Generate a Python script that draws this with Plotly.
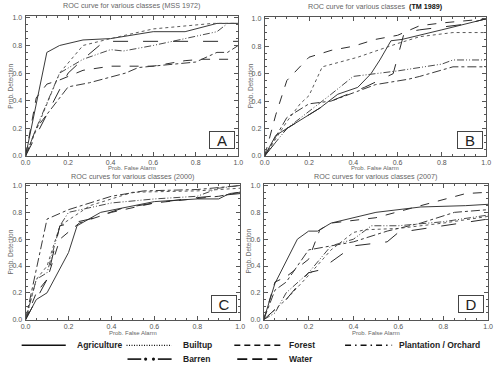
import plotly.graph_objects as go

# ---------------- data ----------------
CLASSES = ["Agriculture", "Builtup", "Forest", "Plantation / Orchard", "Barren", "Water"]
PANEL_LETTERS = ["A", "B", "C", "D"]
PANEL_TITLES = [
    "ROC curve for various classes (MSS 1972)",
    "ROC curve for various classes  <span style='color:#111'><b>(TM 1989)</b></span>",
    "ROC curves for various classes (2000)",
    "ROC curves for various classes (2007)",
]
TICK_VALUES = [0.0, 0.2, 0.4, 0.6, 0.8, 1.0]
TICK_LABELS = ["0.0", "0.2", "0.4", "0.6", "0.8", "1.0"]

# Panel A (MSS 1972)
A_agriculture = ([0, 0.1, 0.16, 0.27, 0.4, 0.6, 0.75, 0.9, 1.0],
                 [0, 0.75, 0.8, 0.84, 0.85, 0.9, 0.9, 0.96, 0.96])
A_builtup = ([0, 0.16, 0.27, 0.4, 0.6, 0.88, 1.0],
             [0, 0.6, 0.8, 0.85, 0.92, 0.96, 0.96])
A_forest = ([0, 0.05, 0.1, 0.16, 0.27, 0.4, 0.6, 0.75, 0.83, 1.0],
            [0, 0.42, 0.52, 0.55, 0.62, 0.65, 0.65, 0.69, 0.7, 0.7])
A_plantation = ([0, 0.05, 0.1, 0.2, 0.3, 0.47, 0.53, 0.8, 0.9, 0.95, 1.0],
                [0, 0.2, 0.3, 0.5, 0.53, 0.6, 0.64, 0.68, 0.75, 0.75, 0.8])
A_barren = ([0, 0.05, 0.16, 0.27, 0.4, 0.46, 0.6, 0.9, 0.95, 1.0],
            [0, 0.2, 0.6, 0.7, 0.77, 0.76, 0.8, 0.9, 0.96, 0.96])
A_water = ([0, 0.1, 0.2, 0.27, 0.37, 1.0],
           [0, 0.3, 0.6, 0.7, 0.83, 0.83])

# Panel B (TM 1989)
B_agriculture = ([0, 0.05, 0.1, 0.25, 0.33, 0.42, 0.48, 0.52, 0.57, 0.62, 0.8, 0.9, 1.0],
                 [0, 0.15, 0.2, 0.35, 0.45, 0.5, 0.6, 0.7, 0.84, 0.85, 0.92, 0.96, 1.0])
B_builtup = ([0, 0.1, 0.16, 0.2, 0.26, 0.42, 0.6, 0.7, 0.85, 1.0],
             [0, 0.25, 0.38, 0.44, 0.65, 0.72, 0.82, 0.87, 0.9, 0.9])
B_forest = ([0, 0.05, 0.1, 0.2, 0.3, 0.4, 0.5, 0.6, 0.7, 0.8, 1.0],
            [0, 0.3, 0.55, 0.72, 0.77, 0.8, 0.85, 0.88, 0.95, 0.97, 1.0])
B_plantation = ([0, 0.1, 0.2, 0.3, 0.4, 0.5, 0.65, 0.7, 0.85, 1.0],
                [0, 0.28, 0.38, 0.4, 0.46, 0.52, 0.56, 0.58, 0.65, 0.65])
B_barren = ([0, 0.1, 0.3, 0.4, 0.5, 0.6, 0.8, 0.85, 1.0],
            [0, 0.2, 0.45, 0.58, 0.6, 0.62, 0.67, 0.7, 0.7])
B_water = ([0, 0.1, 0.3, 0.45, 0.58, 0.63, 0.7, 0.9, 1.0],
           [0, 0.2, 0.4, 0.5, 0.6, 0.9, 0.92, 0.96, 1.0])

# Panel C (2000)
C_agriculture = ([0, 0.05, 0.1, 0.2, 0.24, 0.35, 0.6, 0.8, 0.9, 0.95, 1.0],
                 [0, 0.15, 0.2, 0.5, 0.7, 0.8, 0.88, 0.9, 0.9, 0.94, 0.95])
C_builtup = ([0, 0.05, 0.1, 0.16, 0.3, 0.5, 0.8, 1.0],
             [0, 0.3, 0.4, 0.7, 0.85, 0.95, 0.96, 0.98])
C_forest = ([0, 0.05, 0.1, 0.16, 0.25, 0.4, 0.6, 0.8, 0.9, 1.0],
            [0, 0.2, 0.3, 0.6, 0.72, 0.8, 0.87, 0.9, 0.92, 0.95])
C_plantation = ([0, 0.1, 0.2, 0.4, 0.55, 0.8, 1.0],
                [0, 0.75, 0.82, 0.92, 0.96, 0.97, 1.0])
C_barren = ([0, 0.05, 0.1, 0.16, 0.2, 0.4, 0.6, 0.8, 0.9, 1.0],
            [0, 0.3, 0.35, 0.7, 0.8, 0.87, 0.9, 0.92, 0.98, 1.0])
C_water = ([0, 0.05, 0.1, 0.16, 0.3, 0.45, 0.6, 0.8, 1.0],
           [0, 0.15, 0.3, 0.7, 0.75, 0.83, 0.87, 0.91, 0.94])

# Panel D (2007)
D_agriculture = ([0, 0.05, 0.15, 0.2, 0.24, 0.3, 0.5, 0.7, 0.9, 1.0],
                 [0, 0.27, 0.6, 0.66, 0.66, 0.72, 0.8, 0.84, 0.85, 0.86])
D_builtup = ([0, 0.1, 0.2, 0.3, 0.4, 0.45, 0.6, 0.8, 1.0],
             [0, 0.15, 0.33, 0.52, 0.65, 0.67, 0.68, 0.72, 0.77])
D_forest = ([0, 0.05, 0.1, 0.2, 0.25, 0.3, 0.5, 0.7, 0.9, 1.0],
            [0, 0.28, 0.32, 0.45, 0.67, 0.72, 0.76, 0.85, 0.94, 0.95])
D_plantation = ([0, 0.05, 0.1, 0.2, 0.3, 0.4, 0.55, 0.7, 0.85, 1.0],
                [0, 0.22, 0.28, 0.52, 0.55, 0.58, 0.66, 0.72, 0.8, 0.82])
D_barren = ([0, 0.05, 0.1, 0.2, 0.3, 0.4, 0.48, 0.6, 0.8, 1.0],
            [0, 0.05, 0.2, 0.35, 0.55, 0.6, 0.7, 0.7, 0.73, 0.78])
D_water = ([0, 0.1, 0.2, 0.25, 0.4, 0.5, 0.55, 0.6, 0.8, 1.0],
           [0, 0.15, 0.35, 0.37, 0.55, 0.57, 0.58, 0.65, 0.7, 0.75])

PANELS = [
    [A_agriculture, A_builtup, A_forest, A_plantation, A_barren, A_water],
    [B_agriculture, B_builtup, B_forest, B_plantation, B_barren, B_water],
    [C_agriculture, C_builtup, C_forest, C_plantation, C_barren, C_water],
    [D_agriculture, D_builtup, D_forest, D_plantation, D_barren, D_water],
]

# ---------------- styles ----------------
W, H = 500, 370
FONT = "Liberation Sans, Arial, sans-serif"
STYLE = {
    "Agriculture": dict(color="#3a3a3a", dash="solid"),
    "Builtup": dict(color="#5a5a5a", dash="dot"),
    "Forest": dict(color="#2e2e2e", dash="dash"),
    "Plantation / Orchard": dict(color="#3a3a3a", dash="dashdot"),
    "Barren": dict(color="#4a4a4a", dash="7px,2px,1px,2px,1px,2px"),
    "Water": dict(color="#2a2a2a", dash="longdash"),
}
# plot frames in pixels: (left, right, top, bottom)
FRAMES = [(21, 238, 14, 156), (265, 491, 15, 156), (21, 240, 184, 322), (264, 493, 184, 322)]
XTITLE_OFFSET = [12, 12, 14, 14]
TITLE_GAP = [4, 4, 1, 1]


def px(x):
    return x / W


def py(y):
    return 1 - y / H


fig = go.Figure()
annotations = []
shapes = []

for i, (frame, series) in enumerate(zip(FRAMES, PANELS)):
    l, r, t, b = frame
    suffix = "" if i == 0 else str(i + 1)
    xa, ya = "x" + suffix, "y" + suffix
    for name, (xs, ys) in zip(CLASSES, series):
        st = STYLE[name]
        fig.add_trace(go.Scatter(x=xs, y=ys, mode="lines", name=name, showlegend=False,
                                 xaxis=xa, yaxis=ya, hoverinfo="skip",
                                 line=dict(color=st["color"], dash=st["dash"], width=1)))
    axis_common = dict(showline=True, linecolor="#555", linewidth=1, mirror="allticks",
                       ticks="inside", ticklen=4, tickcolor="#555", showgrid=False, zeroline=False,
                       tickvals=TICK_VALUES, ticktext=TICK_LABELS,
                       tickfont=dict(size=7, color="#555", family=FONT),
                       minor=dict(ticks="inside", ticklen=2, dtick=0.05, tickcolor="#555", showgrid=False),
                       fixedrange=True)
    fig.layout["xaxis" + suffix] = dict(axis_common, domain=[px(l), px(r)], range=[0, 1],
                                        anchor=ya, ticklabelstandoff=0)
    fig.layout["yaxis" + suffix] = dict(axis_common, domain=[py(b), py(t)], range=[0, 1.015],
                                        anchor=xa, ticklabelstandoff=1)
    # panel title
    annotations.append(dict(text=PANEL_TITLES[i], x=px((l + r) / 2), y=py(t - TITLE_GAP[i]),
                            xref="paper", yref="paper",
                            showarrow=False, xanchor="center", yanchor="bottom",
                            font=dict(size=7.2, color="#666", family=FONT)))
    # axis titles
    annotations.append(dict(text="Prob. False Alarm", x=px((l + r) / 2), y=py(b + XTITLE_OFFSET[i]),
                            xref="paper", yref="paper",
                            showarrow=False, xanchor="center", yanchor="middle",
                            font=dict(size=6, color="#666", family=FONT)))
    annotations.append(dict(text="Prob. Detection", x=px(l - 15), y=py((t + b) / 2), xref="paper", yref="paper",
                            showarrow=False, xanchor="center", yanchor="middle", textangle=-90,
                            font=dict(size=6.5, color="#666", family=FONT)))
    # panel letter box
    annotations.append(dict(text=PANEL_LETTERS[i], x=px(r - 17), y=py(b - 16), xref="paper", yref="paper",
                            showarrow=False, xanchor="center", yanchor="middle",
                            font=dict(size=15, color="#222", family=FONT),
                            bordercolor="#444", borderwidth=1, borderpad=0, width=24, height=16,
                            bgcolor="white"))

# ---------------- manual legend ----------------
LEGEND_POS = [  # (x0, x1, y, text_x)
    (17, 62, 348, 71),
    (124, 170, 348, 180),
    (234, 283, 348, 288),
    (347, 395, 348, 400),
    (125, 170, 362, 180),
    (237, 280, 362, 288),
]
for name, (x0, x1, y, tx) in zip(CLASSES, LEGEND_POS):
    if name == "Barren":
        shapes.append(dict(type="line", xref="paper", yref="paper", x0=px(x0), x1=px(139), y0=py(y), y1=py(y),
                           line=dict(color="#111", width=1.6)))
        shapes.append(dict(type="line", xref="paper", yref="paper", x0=px(156), x1=px(x1), y0=py(y), y1=py(y),
                           line=dict(color="#111", width=1.6)))
        for cx in (143.5, 151.5):
            shapes.append(dict(type="circle", xref="paper", yref="paper", x0=px(cx - 1.6), x1=px(cx + 1.6),
                               y0=py(y + 1.6), y1=py(y - 1.6), fillcolor="#111", line=dict(color="#111", width=0)))
    else:
        dash = {"Builtup": "1px,1.5px", "Forest": "6px,4px", "Plantation / Orchard": "6px,4px,1.5px,4px",
                "Water": "10px,5px"}.get(name, "solid")
        shapes.append(dict(type="line", xref="paper", yref="paper", x0=px(x0), x1=px(x1), y0=py(y), y1=py(y),
                           line=dict(color="#111", width=1.6 if name != "Builtup" else 1.2, dash=dash)))
    annotations.append(dict(text="<b>" + name + "</b>", x=px(tx), y=py(y), xref="paper", yref="paper",
                            showarrow=False, xanchor="left", yanchor="middle",
                            font=dict(size=8.5, color="#222", family=FONT)))

fig.update_layout(width=W, height=H, margin=dict(l=0, r=0, t=0, b=0),
                  paper_bgcolor="white", plot_bgcolor="white", hovermode=False,
                  showlegend=False, annotations=annotations, shapes=shapes)

fig.write_html("out.html", config={"displayModeBar": False},
               post_script="document.body.style.margin='0';document.body.style.overflow='hidden';")
